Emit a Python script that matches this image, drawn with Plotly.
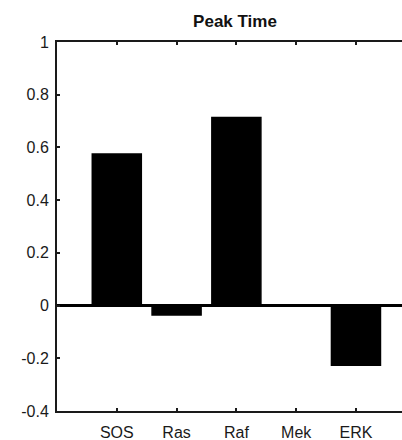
import plotly.graph_objects as go

categories = ["SOS", "Ras", "Raf", "Mek", "ERK"]
positions = [1, 2, 3, 4, 5]
values = [0.575, -0.036, 0.714, 0.0, -0.226]
y_ticks = [-0.4, -0.2, 0, 0.2, 0.4, 0.6, 0.8, 1]
y_tick_labels = ["-0.4", "-0.2", "0", "0.2", "0.4", "0.6", "0.8", "1"]

fig = go.Figure()
fig.add_trace(go.Bar(
    x=positions, y=values, width=0.82,
    marker=dict(color="black", line=dict(color="black", width=1.5)),
    showlegend=False,
))

font_family = "Liberation Sans, Arial, sans-serif"
fig.update_layout(
    width=402, height=440,
    margin=dict(l=57, r=0, t=42, b=29),
    paper_bgcolor="white", plot_bgcolor="white",
    font=dict(family=font_family, size=16, color="#1a1a1a"),
    title=dict(text="<b>Peak Time</b>", x=235/402, xanchor="center",
               y=1 - 21/440, yanchor="middle",
               font=dict(size=17, color="#111")),
    bargap=0.2,
)
fig.update_xaxes(
    range=[0, 5.77], tickvals=positions, ticktext=categories,
    showline=True, linecolor="#1a1a1a", linewidth=2, mirror="ticks",
    ticks="inside", ticklen=3, tickwidth=1.5, tickcolor="#1a1a1a",
    showgrid=False, zeroline=False, ticklabelstandoff=6,
)
fig.update_yaxes(
    range=[-0.4, 1], tickvals=y_ticks, ticktext=y_tick_labels,
    showline=True, linecolor="#1a1a1a", linewidth=2, mirror=False,
    ticks="inside", ticklen=3, tickwidth=1.5, tickcolor="#1a1a1a",
    showgrid=False, zeroline=True, zerolinecolor="black", zerolinewidth=3,
    ticklabelstandoff=3,
)
fig.write_html("out.html")
